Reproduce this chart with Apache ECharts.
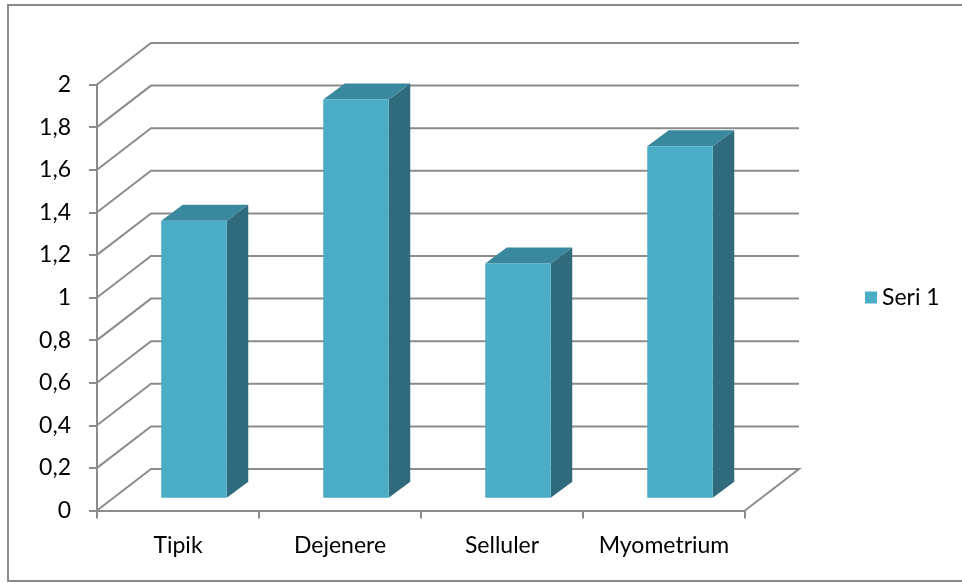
<!DOCTYPE html>
<html>
<head>
<meta charset="utf-8">
<script src="https://cdn.jsdelivr.net/npm/echarts@6/dist/echarts.min.js"></script>
<style>
  html, body { margin: 0; padding: 0; background: #fff; }
  #chart { width: 962px; height: 583px; }
</style>
</head>
<body>
<div id="chart"></div>
<script>
const categories = ['Tipik', 'Dejenere', 'Selluler', 'Myometrium'];
const seri1 = [1.3, 1.87, 1.1, 1.65];
const yTicks = [0, 0.2, 0.4, 0.6, 0.8, 1, 1.2, 1.4, 1.6, 1.8, 2];

const lineColor = '#8c8c8c';
const fontFamily = 'Lato, "Noto Sans", sans-serif';
// depth of back wall and of the bar plane (pixels)
const wallDx = 54, wallDy = -41.5;
const barOx = 16, barOy = -12.8;
const barDx = 21.5, barDy = -16;
const barW = 65.5;

const myChart = echarts.init(document.getElementById('chart'));

const option = {
    animation: false,
    graphic: [{
        type: 'rect',
        shape: { x: 8, y: 5, width: 960, height: 576 },
        style: { fill: 'none', stroke: '#8a8a8a', lineWidth: 2 }
    }],
    legend: {
        left: 860,
        top: 281,
        icon: 'rect',
        itemWidth: 12,
        itemHeight: 12,
        itemGap: 5,
        textStyle: { fontFamily: fontFamily, fontSize: 23, color: '#000' },
        data: [{ name: 'Seri 1', itemStyle: { color: '#4BACC6' } }]
    },
    grid: {
        left: 97,
        right: 217,
        top: 84.5,
        bottom: 72.5
    },
    xAxis: {
        type: 'category',
        data: categories,
        axisLine: { lineStyle: { color: lineColor, width: 2 } },
        axisTick: { show: true, interval: 0, length: 8, lineStyle: { color: lineColor, width: 2 } },
        axisLabel: { interval: 0, hideOverlap: false, margin: 24, fontFamily: fontFamily, fontSize: 23, color: '#000' },
        splitLine: { show: false }
    },
    yAxis: {
        type: 'value',
        min: 0,
        max: 2,
        interval: 0.2,
        axisLine: { show: true, lineStyle: { color: lineColor, width: 2 } },
        axisTick: { show: true, length: 8, lineStyle: { color: lineColor, width: 2 } },
        axisLabel: {
            margin: 26,
            fontFamily: fontFamily,
            fontSize: 23,
            color: '#000',
            formatter: v => String(Math.round(v * 10) / 10).replace('.', ',')
        },
        splitLine: { show: false }
    },
    series: [
        {
            // back wall and floor lines
            type: 'custom',
            silent: true,
            z: 1,
            data: yTicks.map(v => [0, v]),
            renderItem: function (params, api) {
                const cs = params.coordSys;
                const v = api.value(1);
                const y = api.coord([0, v])[1];
                const x0 = cs.x;
                const x1 = cs.x + cs.width;
                const pts = [[x0, y], [x0 + wallDx, y + wallDy], [x1 + wallDx, y + wallDy]];
                if (v === 0) pts.push([x1, y]);
                return {
                    type: 'polyline',
                    shape: { points: pts },
                    style: { stroke: lineColor, lineWidth: 2, fill: null }
                };
            }
        },
        {
            name: 'Seri 1',
            type: 'custom',
            z: 3,
            data: seri1.map((v, i) => [i, v]),
            renderItem: function (params, api) {
                const top = api.coord([api.value(0), api.value(1)]);
                const base = api.coord([api.value(0), 0]);
                const l = top[0] - barW / 2 + barOx;
                const r = l + barW;
                const t = top[1] + barOy;
                const b = base[1] + barOy;
                return {
                    type: 'group',
                    children: [
                        {
                            type: 'polygon',
                            shape: { points: [[r, b], [r + barDx, b + barDy], [r + barDx, t + barDy], [r, t]] },
                            style: { fill: '#306B7D' }
                        },
                        {
                            type: 'polygon',
                            shape: { points: [[l, t], [l + barDx, t + barDy], [r + barDx, t + barDy], [r, t]] },
                            style: { fill: '#3A889E' }
                        },
                        {
                            type: 'rect',
                            shape: { x: l, y: t, width: barW, height: b - t },
                            style: { fill: '#4BACC6' }
                        }
                    ]
                };
            }
        }
    ]
};

myChart.setOption(option);
</script>
</body>
</html>
